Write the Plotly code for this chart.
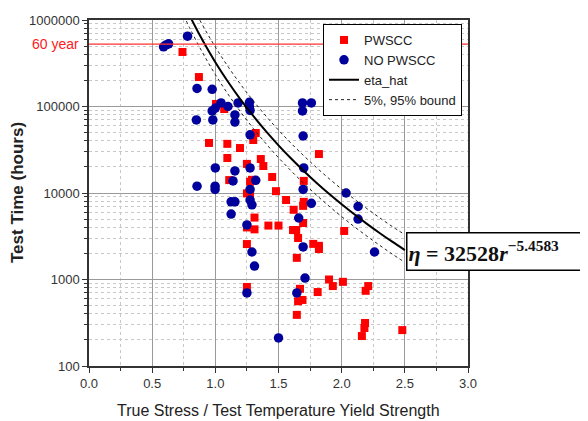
import plotly.graph_objects as go

# ---------------- data ----------------
pwscc_x = [0.74, 0.87, 1.005, 1.07, 1.32, 1.30, 0.95, 1.095, 1.195, 1.095, 1.36, 1.38, 1.25, 1.45,
           1.11, 1.275, 1.29, 1.48, 1.25, 1.275, 1.56, 1.62, 1.82, 1.70, 1.70, 1.695, 1.31, 1.25,
           1.31, 1.42, 1.50, 1.25, 1.25, 1.615, 1.64, 1.655, 1.645, 1.67, 1.655, 1.69, 1.645,
           1.695, 1.775, 1.82, 1.82, 2.02, 1.81, 1.90, 1.93, 2.01, 2.19, 2.21, 2.185, 2.18, 2.16, 2.48]
pwscc_y = [427000, 219000, 107000, 93500, 49400, 41000, 37900, 37000, 33100, 25400, 24700, 20500,
           21700, 15300, 14100, 13500, 14200, 10500, 9900, 9300, 8300, 6400, 28200, 13800, 7900, 7100,
           5200, 4000, 3800, 4200, 4200, 2570, 820, 3730, 3730, 3020, 1780, 780, 560, 580, 390,
           4500, 2580, 2250, 2450, 3640, 716, 1000, 840, 940, 740, 840, 314, 275, 222, 260]

nopw_x = [0.59, 0.61, 0.63, 0.78, 0.855, 0.975, 0.85, 0.98, 0.975, 1.0, 1.045, 1.10, 1.18, 1.155,
          1.155, 1.27, 1.27, 1.275, 1.275, 1.0, 1.275, 1.155, 1.14, 1.32, 0.855, 0.998, 0.998,
          1.275, 1.125, 1.155, 1.275, 1.29, 1.125, 1.25, 1.29, 1.31, 1.25, 1.50, 1.645, 1.66,
          1.69, 1.76, 1.69, 1.695, 1.70, 1.695, 1.76, 2.035, 2.13, 2.13, 1.695, 2.26, 1.71]
nopw_y = [490000, 515000, 530000, 650000, 162000, 158000, 70000, 70000, 89000, 96000, 110000,
          100000, 110000, 80000, 66000, 112000, 100000, 90000, 47000, 19500, 19500, 18000, 13800,
          14000, 12000, 12000, 11000, 11000, 7900, 7900, 8300, 7300, 5700, 4270, 2080, 1430, 700,
          211, 700, 5140, 110000, 110000, 89000, 45600, 19500, 11000, 7600, 10000, 7000, 5000,
          2380, 2080, 1040]

curve_x = [0.75, 0.8, 0.9, 1.0, 1.1, 1.2, 1.3, 1.4, 1.5, 1.6, 1.7, 1.8, 1.9, 2.0, 2.1, 2.2, 2.3, 2.4, 2.5]
eta_hat = [1564000, 1099500, 578100, 325280, 193350, 120240, 77690, 51840, 35570, 25010, 17970,
           13150, 9790, 7400, 5670, 4400, 3450, 2735, 2190]
bound_95 = [2346000, 1649000, 867000, 487900, 290000, 180400, 116500, 77760, 53350, 37520, 26950,
            19720, 14680, 11100, 8500, 6600, 5180, 4100, 3300]
bound_5 = [1126000, 791600, 416200, 234200, 139200, 86570, 55940, 37320, 25610, 18010, 12940,
           9470, 7050, 5330, 4080, 3170, 2490, 1970, 1580]

sixty_year_hours = 525600
y_tick_vals = [100, 1000, 10000, 100000, 1000000]
y_tick_text = ["100", "1000", "10000", "100000", "1000000"]
x_tick_vals = [0.0, 0.5, 1.0, 1.5, 2.0, 2.5, 3.0]
x_tick_text = ["0.0", "0.5", "1.0", "1.5", "2.0", "2.5", "3.0"]

# page body has an 8px margin: figure is sized / offset to compensate
OFF = 8
W, H = 588 - OFF, 421 - OFF
L, R, T, B = 89 - OFF, 120, 20 - OFF, 55
PW, PH = 379, 346

# ---------------- figure ----------------
fig = go.Figure()

fig.add_trace(go.Scatter(x=pwscc_x, y=pwscc_y, mode="markers", name="PWSCC",
                         marker=dict(symbol="square", size=8, color="#ff0000")))
fig.add_trace(go.Scatter(x=nopw_x, y=nopw_y, mode="markers", name="NO PWSCC",
                         marker=dict(symbol="circle", size=9.5, color="#00009c")))
fig.add_trace(go.Scatter(x=curve_x, y=eta_hat, mode="lines", name="eta_hat",
                         line=dict(color="black", width=2, shape="spline")))
fig.add_trace(go.Scatter(x=curve_x, y=bound_95, mode="lines", name="5%, 95% bound",
                         legendgroup="b", line=dict(color="#222", width=1, dash="dot", shape="spline")))
fig.add_trace(go.Scatter(x=curve_x, y=bound_5, mode="lines", name="5%, 95% bound",
                         legendgroup="b", showlegend=False,
                         line=dict(color="#222", width=1, dash="dot", shape="spline")))

minor_y = [k * 10 ** d for d in range(2, 6) for k in range(2, 10)]

fig.update_xaxes(range=[0, 3], tickvals=x_tick_vals, ticktext=x_tick_text,
                 showline=True, linecolor="#333", linewidth=1.5, mirror=True,
                 ticks="outside", ticklen=5, tickcolor="#333",
                 showgrid=True, gridcolor="#9a9a9a", gridwidth=1, zeroline=False,
                 tickfont=dict(family="Liberation Sans, Arial", size=13, color="#333"),
                 minor=dict(tickvals=[0.25, 0.75, 1.25, 1.75, 2.25, 2.75], ticks="outside", ticklen=3,
                            tickcolor="#333", showgrid=True, gridcolor="#c8c8c8", griddash="dot"))
fig.update_yaxes(type="log", range=[2, 6], tickvals=y_tick_vals, ticktext=y_tick_text,
                 showline=True, linecolor="#333", linewidth=1.5, mirror=True,
                 ticks="outside", ticklen=5, tickcolor="#333",
                 showgrid=True, gridcolor="#9a9a9a", gridwidth=1, zeroline=False,
                 tickfont=dict(family="Liberation Sans, Arial", size=13, color="#333"),
                 minor=dict(tickvals=minor_y, ticks="outside", ticklen=3, tickcolor="#333",
                            showgrid=True, gridcolor="#c8c8c8", griddash="dot"))

# 60-year line and label
fig.add_shape(type="line", xref="paper", x0=0, x1=1, yref="y", y0=sixty_year_hours, y1=sixty_year_hours,
              line=dict(color="#ff3030", width=1.2))
fig.add_annotation(xref="paper", x=0, xanchor="right", xshift=-8, yref="y", y=5.7207,
                   text="60 year", showarrow=False,
                   font=dict(family="Liberation Sans, Arial", size=14, color="#ff2020"))

# axis titles
fig.add_annotation(xref="paper", x=0.5, yref="paper", y=0, yanchor="middle", yshift=-44,
                   text="True Stress / Test Temperature Yield Strength", showarrow=False,
                   font=dict(family="Liberation Sans, Arial", size=16, color="#222"))
fig.add_annotation(xref="paper", x=0, xanchor="center", xshift=-72, yref="paper", y=0.5,
                   text="<b>Test Time (hours)</b>", textangle=-90, showarrow=False,
                   font=dict(family="Liberation Sans, Arial", size=17, color="#222"))

# formula box
fig.add_annotation(xref="paper", x=(406 - 89) / PW, xanchor="left", yref="paper",
                   y=1 - (251 - 20) / PH, yanchor="middle",
                   text="<b><i>η</i> = 32528<i>r</i><sup>−5.4583</sup></b>",
                   showarrow=False, align="left", width=178, height=34,
                   bgcolor="white", bordercolor="black", borderwidth=1.5, borderpad=1,
                   font=dict(family="Liberation Serif, DejaVu Serif", size=22, color="#111"))

fig.update_layout(
    width=W, height=H,
    margin=dict(l=L, r=R, t=T, b=B, autoexpand=False),
    paper_bgcolor="white", plot_bgcolor="white",
    showlegend=True,
    legend=dict(x=(323 - 89) / PW, xanchor="left", y=1 - (24 - 20) / PH, yanchor="top",
                bgcolor="white", bordercolor="black", borderwidth=1,
                font=dict(family="Liberation Sans, Arial", size=13, color="#222"),
                tracegroupgap=0, itemwidth=30),
)

fig.write_html("out.html")
